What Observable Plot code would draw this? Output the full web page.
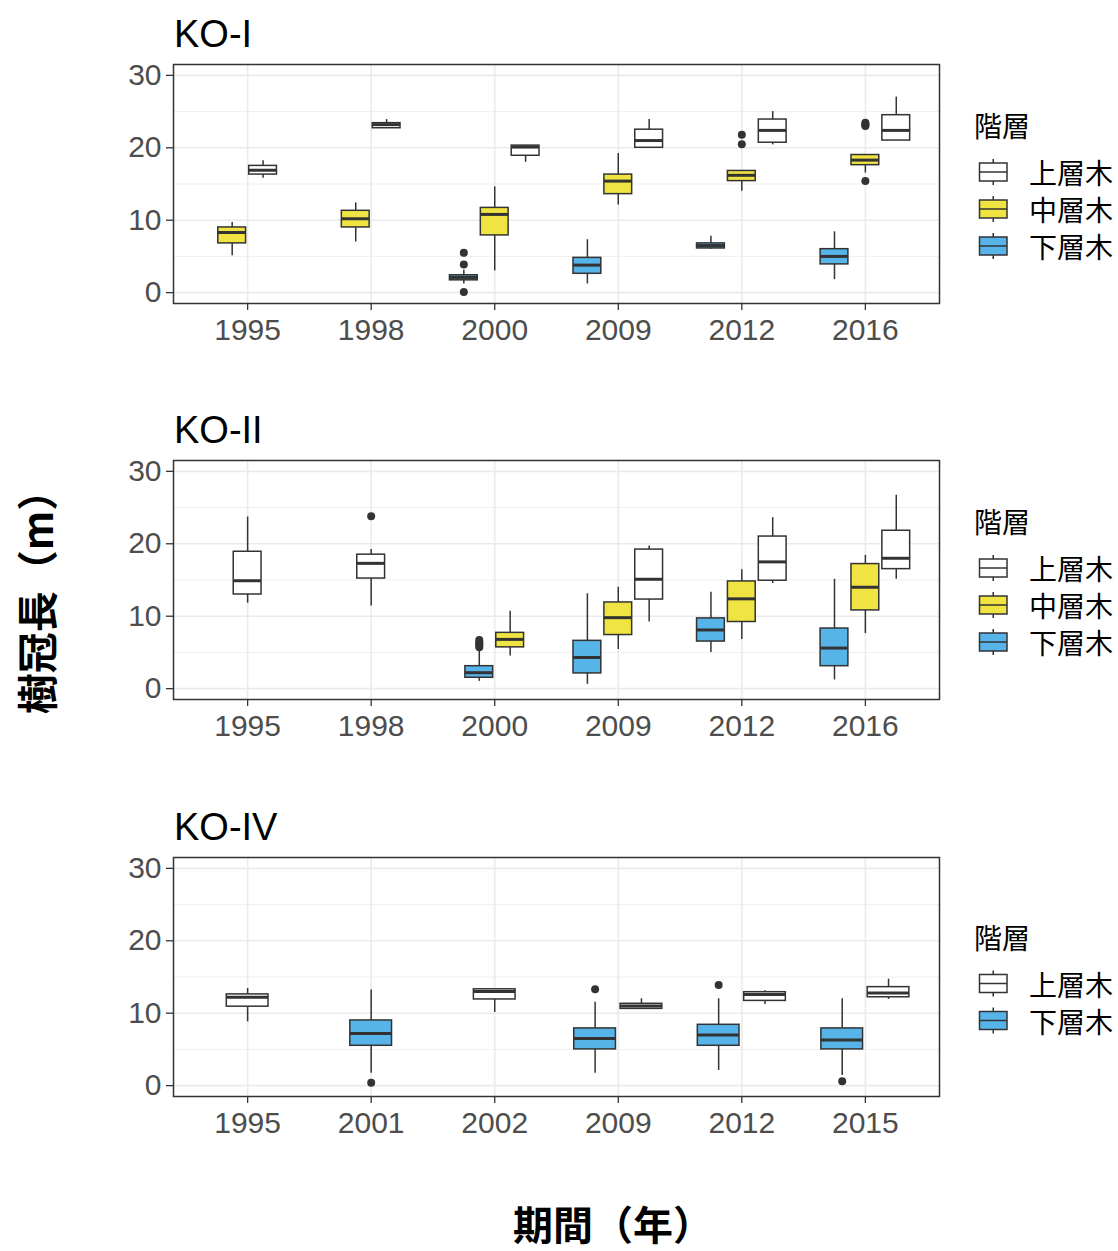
<!DOCTYPE html>
<html>
<head>
<meta charset="utf-8">
<script src="https://cdn.jsdelivr.net/npm/d3@7"></script>
<script src="https://cdn.jsdelivr.net/npm/@observablehq/plot@0.6"></script>
<style>
  html, body { margin: 0; padding: 0; background: #fff; }
  #root { position: relative; width: 1118px; height: 1251px; background: #fff; overflow: hidden; }
  .panel { position: absolute; left: 0; }
  #overlay { position: absolute; left: 0; top: 0; pointer-events: none; }
  .cjk { font-feature-settings: "palt" 1; }
</style>
</head>
<body>
<div id="root"></div>
<script>
// ---- data ----
const layers = ["下層木", "中層木", "上層木"];          // dodge order left→right
const layerColors = ["#56B4E9", "#F0E442", "#FFFFFF"];
const legendOrder = ["上層木", "中層木", "下層木"];
const panelTitles = ["KO-I", "KO-II", "KO-IV"];
const yTicks = [0, 10, 20, 30];
const yMinor = [5, 15, 25];

const years1 = ["1995", "1998", "2000", "2009", "2012", "2016"];
const years2 = ["1995", "1998", "2000", "2009", "2012", "2016"];
const years3 = ["1995", "2001", "2002", "2009", "2012", "2015"];

// [year, layer, lower whisker, Q1, median, Q3, upper whisker]
const boxes1 = [
  ["1995", "中層木", 5.1, 6.8, 8.3, 9.0, 9.7],
  ["1995", "上層木", 15.8, 16.3, 16.9, 17.5, 18.2],
  ["1998", "中層木", 7.0, 9.0, 10.2, 11.3, 12.4],
  ["1998", "上層木", 22.7, 22.7, 23.2, 23.4, 23.9],
  ["2000", "下層木", 1.2, 1.7, 2.1, 2.4, 3.1],
  ["2000", "中層木", 3.0, 7.9, 10.8, 11.7, 14.6],
  ["2000", "上層木", 18.0, 18.9, 20.1, 20.3, 20.3],
  ["2009", "下層木", 1.2, 2.6, 3.8, 4.8, 7.3],
  ["2009", "中層木", 12.1, 13.6, 15.4, 16.3, 19.2],
  ["2009", "上層木", 20.0, 20.0, 21.0, 22.5, 23.9],
  ["2012", "下層木", 6.0, 6.1, 6.5, 6.8, 7.8],
  ["2012", "中層木", 14.0, 15.4, 16.2, 16.8, 16.8],
  ["2012", "上層木", 20.4, 20.7, 22.4, 23.9, 25.0],
  ["2016", "下層木", 1.8, 3.9, 5.0, 6.0, 8.4],
  ["2016", "中層木", 16.5, 17.6, 18.3, 19.0, 19.0],
  ["2016", "上層木", 21.0, 21.0, 22.4, 24.5, 27.0]
];
const outliers1 = [
  ["2000", "下層木", 5.5], ["2000", "下層木", 3.9], ["2000", "下層木", 0.1],
  ["2012", "中層木", 21.8], ["2012", "中層木", 20.5],
  ["2016", "中層木", 23.45], ["2016", "中層木", 23.3], ["2016", "中層木", 23.15], ["2016", "中層木", 23.0],
  ["2016", "中層木", 15.4]
];

const boxes2 = [
  ["1995", "上層木", 11.8, 13.0, 14.9, 18.9, 23.7],
  ["1998", "上層木", 11.4, 15.2, 17.3, 18.5, 19.2],
  ["2000", "下層木", 1.0, 1.5, 2.2, 3.1, 5.2],
  ["2000", "中層木", 4.5, 5.7, 6.8, 7.7, 10.7],
  ["2009", "下層木", 0.6, 2.1, 4.3, 6.6, 13.1],
  ["2009", "中層木", 5.4, 7.4, 9.8, 11.9, 14.0],
  ["2009", "上層木", 9.2, 12.3, 15.1, 19.2, 19.7],
  ["2012", "下層木", 5.0, 6.5, 8.1, 9.7, 13.3],
  ["2012", "中層木", 6.8, 9.2, 12.4, 14.8, 16.4],
  ["2012", "上層木", 14.5, 14.9, 17.5, 21.0, 23.6],
  ["2016", "下層木", 1.2, 3.1, 5.6, 8.3, 15.1],
  ["2016", "中層木", 7.6, 10.8, 14.0, 17.2, 18.4],
  ["2016", "上層木", 15.1, 16.5, 18.0, 21.8, 26.7]
];
const outliers2 = [
  ["1998", "上層木", 23.8],
  ["2000", "下層木", 5.7], ["2000", "下層木", 6.0], ["2000", "下層木", 6.2],
  ["2000", "下層木", 6.45], ["2000", "下層木", 6.7]
];

const boxes3 = [
  ["1995", "上層木", 8.8, 10.9, 12.2, 12.6, 13.4],
  ["2001", "下層木", 1.7, 5.5, 7.2, 9.0, 13.2],
  ["2002", "上層木", 10.1, 11.9, 13.0, 13.3, 13.3],
  ["2009", "下層木", 1.7, 5.0, 6.5, 7.9, 11.5],
  ["2009", "上層木", 10.6, 10.6, 11.0, 11.3, 12.0],
  ["2012", "下層木", 2.1, 5.5, 7.0, 8.4, 12.0],
  ["2012", "上層木", 11.2, 11.7, 12.6, 12.9, 13.1],
  ["2015", "下層木", 1.4, 5.0, 6.3, 7.9, 12.0],
  ["2015", "上層木", 11.9, 12.2, 12.8, 13.6, 14.7]
];
const outliers3 = [
  ["2001", "下層木", 0.4], ["2009", "下層木", 13.3],
  ["2012", "下層木", 13.9], ["2015", "下層木", 0.6]
];

const xTitle = "期間（年）";
const yTitle = "樹冠長（m）";
const legendTitle = "階層";

// ---- layout ----
const latin = "'Liberation Sans', Arial, sans-serif";
const cjk = "'Noto Sans CJK JP', 'Noto Sans CJK SC', sans-serif";
const panelTops = [0, 396, 793];
const M = {left: 173, right: 21, top: 64, bottom: 50};
const PW = 960, PH = 353;
const root = document.getElementById("root");

function buildRows(years, boxes, outliers) {
  const present = layers.filter(l => boxes.some(b => b[1] === l));
  const slot = 0.75 / present.length;   // dodge width per group
  const half = slot * 0.45;             // half box width
  const centers = new Map();
  const rows = boxes.map(([year, layer, lo, q1, med, q3, hi]) => {
    const yi = years.indexOf(year);
    const here = layers.filter(l => boxes.some(b => b[0] === year && b[1] === l));
    const k = here.indexOf(layer);
    const cx = yi + (k - (here.length - 1) / 2) * slot;
    centers.set(year + "|" + layer, cx);
    return {year, layer, lo, q1, med, q3, hi, cx, x1: cx - half, x2: cx + half};
  });
  const outs = outliers.map(([year, layer, v]) => ({year, layer, v, cx: centers.get(year + "|" + layer)}));
  return {rows, outs, present};
}

function panel(years, boxes, outliers) {
  const {rows, outs} = buildRows(years, boxes, outliers);
  const idx = d3.range(years.length);
  return Plot.plot({
    width: PW, height: PH,
    marginLeft: M.left, marginRight: M.right, marginTop: M.top, marginBottom: M.bottom,
    style: {fontFamily: latin, background: "transparent", overflow: "visible"},
    x: {type: "linear", domain: [-0.6, years.length - 0.4]},
    y: {domain: [-1.5, 31.5]},
    color: {domain: layers, range: layerColors},
    marks: [
      Plot.gridY(yMinor, {stroke: "#ebebeb", strokeOpacity: 1, strokeWidth: 0.8}),
      Plot.gridY(yTicks, {stroke: "#ebebeb", strokeOpacity: 1, strokeWidth: 1.6}),
      Plot.gridX(idx, {stroke: "#ebebeb", strokeOpacity: 1, strokeWidth: 1.6}),
      Plot.ruleX(rows, {x: "cx", y1: "lo", y2: "hi", stroke: "#333333", strokeWidth: 1.5}),
      Plot.rect(rows, {x1: "x1", x2: "x2", y1: "q1", y2: "q3", fill: "layer", stroke: "#333333", strokeWidth: 1.5}),
      Plot.ruleY(rows, {y: "med", x1: "x1", x2: "x2", stroke: "#333333", strokeWidth: 3}),
      Plot.dot(outs, {x: "cx", y: "v", r: 4, fill: "#333333", stroke: null}),
      Plot.frame({stroke: "#333333", strokeWidth: 1.5}),
      Plot.axisY(yTicks, {tickSize: 7, tickPadding: 5, fontSize: 30, fill: "#4d4d4d", stroke: "#333333", strokeWidth: 1.3, label: null}),
      Plot.axisX(idx, {tickSize: 7, tickPadding: 8, fontSize: 30, fill: "#4d4d4d", stroke: "#333333", strokeWidth: 1.3, tickFormat: i => years[i], label: null})
    ]
  });
}

const allPanels = [[years1, boxes1, outliers1], [years2, boxes2, outliers2], [years3, boxes3, outliers3]];
allPanels.forEach(([ys, bs, os], p) => {
  const svg = panel(ys, bs, os);
  svg.classList.add("panel");
  svg.style.position = "absolute";
  svg.style.top = panelTops[p] + "px";
  svg.style.left = "0px";
  root.appendChild(svg);
});

// ---- overlay: titles, legends, axis titles ----
const ns = "http://www.w3.org/2000/svg";
const ov = document.createElementNS(ns, "svg");
ov.setAttribute("id", "overlay");
ov.setAttribute("width", 1118);
ov.setAttribute("height", 1251);
root.appendChild(ov);
function el(tag, attrs, text) {
  const e = document.createElementNS(ns, tag);
  for (const k in attrs) e.setAttribute(k, attrs[k]);
  if (text != null) e.textContent = text;
  ov.appendChild(e);
  return e;
}

allPanels.forEach(([ys, bs], p) => {
  const oy = panelTops[p];
  el("text", {x: 174, y: oy + 47, "font-family": latin, "font-size": 38, fill: "#000"}, panelTitles[p]);
  // legend
  const present = legendOrder.filter(l => bs.some(b => b[1] === l));
  const n = present.length;
  const blockTop = oy + 188 - (41 + n * 37) / 2;
  el("text", {x: 974, y: blockTop + 13, "dominant-baseline": "central", "font-family": cjk, "font-size": 28, fill: "#000", class: "cjk"}, legendTitle);
  present.forEach((l, k) => {
    const cy = blockTop + 60 + k * 37;
    const col = layerColors[layers.indexOf(l)];
    const kx = 979.5, kw = 27.5, cxk = kx + kw / 2;
    el("line", {x1: cxk, x2: cxk, y1: cy - 13, y2: cy + 13, stroke: "#333", "stroke-width": 1.5});
    el("rect", {x: kx, y: cy - 9, width: kw, height: 18, fill: col, stroke: "#333", "stroke-width": 1.5});
    el("line", {x1: kx, x2: kx + kw, y1: cy, y2: cy, stroke: "#333", "stroke-width": 1.5});
    el("text", {x: 1029, y: cy, "dominant-baseline": "central", "font-family": cjk, "font-size": 28, fill: "#000"}, l);
  });
});

el("text", {x: 613, y: 1223, "text-anchor": "middle", "dominant-baseline": "central", "font-family": cjk, "font-size": 40, "font-weight": 700, fill: "#000"}, xTitle);
el("text", {x: 0, y: 0, transform: "translate(35,592) rotate(-90)", "text-anchor": "middle", "dominant-baseline": "central", "font-family": cjk, "font-size": 41, "font-weight": 700, fill: "#000"}, yTitle);
</script>
</body>
</html>
